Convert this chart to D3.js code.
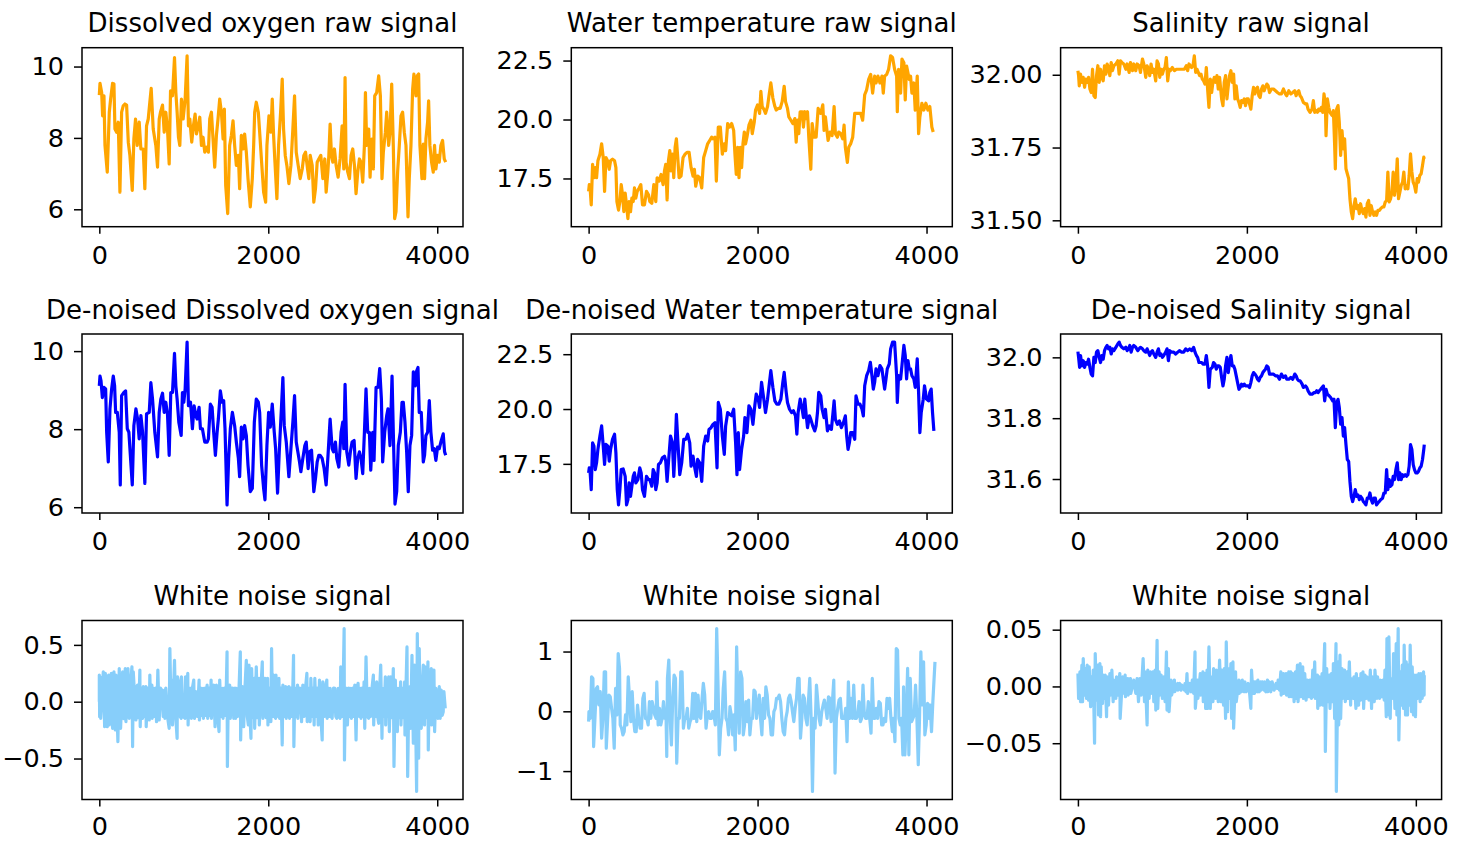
<!DOCTYPE html>
<html>
<head>
<meta charset="utf-8">
<script src="https://cdn.jsdelivr.net/npm/d3@7"></script>
<style>
  body { margin: 0; background: #fff; }
  svg { display: block; font-family: "DejaVu Sans", sans-serif; }
</style>
</head>
<body>
<svg id="chart" width="1463" height="841"></svg>
<script>
// Series, as [sample index, value]

const doRaw = [[0,9.2],[8,9.53],[28,9.27],[39,8.62],[55,9.18],[67,7.79],[94,7.04],[118,8.72],[134,9.09],[157,9.53],[173,9.51],[185,8.25],[205,8.16],[224,8.44],[244,6.48],[264,8.72],[283,8.90],[303,8.95],[323,8.92],[343,7.88],[362,7.51],[390,6.53],[409,7.97],[429,8.53],[449,7.79],[472,8.44],[492,7.69],[520,7.69],[539,6.58],[559,8.34],[579,8.53],[598,9.00],[614,9.39],[638,8.25],[669,7.79],[689,7.18],[709,8.53],[724,8.72],[748,8.92],[768,8.16],[787,8.72],[807,8.25],[827,7.27],[843,9.32],[866,9.18],[890,10.25],[906,9.27],[921,8.72],[937,8.02],[953,7.79],[972,9.09],[992,8.53],[1016,9.09],[1039,10.30],[1055,8.34],[1071,8.53],[1094,7.88],[1114,8.34],[1134,8.67],[1150,8.11],[1173,8.34],[1189,8.58],[1209,7.79],[1228,8.02],[1248,7.60],[1268,7.74],[1291,7.60],[1307,8.53],[1327,8.72],[1346,7.97],[1366,7.18],[1386,8.07],[1405,8.53],[1425,9.09],[1445,8.72],[1465,7.97],[1480,8.81],[1496,6.67],[1520,5.88],[1543,7.79],[1563,8.07],[1583,8.48],[1602,7.79],[1622,7.23],[1646,7.51],[1661,6.58],[1681,8.07],[1701,7.69],[1720,8.11],[1740,7.60],[1760,6.86],[1787,6.07],[1811,6.86],[1827,7.79],[1839,8.72],[1858,9.00],[1882,8.72],[1898,8.16],[1921,7.32],[1945,6.48],[1969,6.20],[1984,7.79],[2008,8.62],[2031,8.16],[2047,9.09],[2063,8.07],[2079,7.32],[2102,6.30],[2122,7.79],[2146,8.72],[2165,9.65],[2181,8.25],[2201,7.51],[2220,7.23],[2244,6.72],[2268,7.23],[2291,8.25],[2311,9.18],[2331,7.60],[2354,7.23],[2378,6.86],[2402,7.13],[2421,7.51],[2441,7.60],[2465,7.13],[2480,6.86],[2496,7.51],[2520,7.23],[2539,6.20],[2559,6.58],[2579,7.32],[2598,7.41],[2622,7.51],[2646,6.86],[2669,7.41],[2685,6.48],[2705,7.04],[2717,7.51],[2732,8.39],[2748,7.51],[2764,7.32],[2783,7.69],[2803,7.23],[2827,6.90],[2850,7.41],[2874,8.34],[2894,7.13],[2909,9.69],[2921,7.32],[2941,7.04],[2961,6.86],[2980,7.51],[3000,7.69],[3020,7.23],[3039,6.44],[3059,7.04],[3079,7.41],[3098,7.32],[3118,6.76],[3138,7.79],[3150,9.27],[3165,7.79],[3189,8.25],[3205,6.90],[3224,7.97],[3244,7.13],[3260,9.18],[3283,9.27],[3307,9.74],[3327,9.18],[3346,6.86],[3362,7.60],[3386,8.16],[3402,8.72],[3425,7.79],[3441,8.16],[3461,9.51],[3480,7.79],[3496,5.74],[3512,5.93],[3531,7.04],[3551,7.79],[3571,8.62],[3590,8.72],[3610,8.16],[3630,7.79],[3654,5.79],[3669,6.86],[3689,7.79],[3709,9.37],[3724,9.79],[3748,9.18],[3764,9.74],[3780,9.79],[3795,7.79],[3819,6.86],[3835,7.83],[3850,6.86],[3866,7.97],[3886,8.44],[3898,9.04],[3913,7.79],[3933,7.32],[3953,7.04],[3968,7.79],[3984,7.13],[4004,7.51],[4024,7.32],[4043,7.79],[4063,7.93],[4083,7.41],[4100,7.32]];

const tempRaw = [[0,16.95],[8,17.24],[16,17.17],[31,16.38],[47,18.10],[63,17.53],[79,17.96],[94,17.53],[110,18.25],[134,18.53],[154,18.97],[173,18.39],[189,16.95],[205,18.39],[224,18.25],[244,17.89],[260,18.25],[283,18.32],[307,18.25],[323,17.96],[335,16.52],[354,16.16],[370,16.52],[386,17.24],[402,16.81],[417,16.09],[433,16.88],[449,16.38],[465,15.80],[480,16.52],[496,16.09],[512,16.67],[528,16.52],[543,17.10],[559,16.67],[575,16.95],[598,17.10],[618,17.24],[638,16.38],[661,16.38],[685,16.95],[709,16.81],[724,16.52],[748,16.45],[772,17.24],[795,16.52],[811,17.53],[835,17.39],[858,17.67],[882,17.24],[898,17.82],[913,18.10],[929,16.59],[945,18.25],[961,18.68],[976,17.82],[992,18.53],[1008,17.53],[1024,18.82],[1039,19.18],[1055,18.39],[1071,17.53],[1094,17.60],[1118,18.39],[1142,18.53],[1165,18.61],[1189,18.61],[1213,17.96],[1236,17.60],[1252,17.89],[1268,17.17],[1291,17.60],[1315,17.53],[1339,17.10],[1362,18.39],[1386,18.68],[1409,18.97],[1433,19.11],[1457,19.25],[1472,19.18],[1496,19.25],[1512,17.39],[1535,19.68],[1559,19.68],[1583,18.53],[1606,18.97],[1622,18.68],[1646,19.83],[1669,19.68],[1693,19.83],[1717,19.54],[1732,18.53],[1748,17.67],[1764,18.82],[1780,17.53],[1795,18.82],[1811,17.96],[1827,18.97],[1843,19.47],[1858,18.97],[1874,19.25],[1898,19.76],[1921,19.97],[1937,19.40],[1961,19.90],[1976,20.40],[2000,20.62],[2024,20.26],[2039,21.19],[2055,20.55],[2079,20.40],[2094,20.26],[2118,20.55],[2134,20.98],[2157,21.55],[2181,20.91],[2205,20.55],[2220,20.40],[2244,20.47],[2268,20.47],[2291,20.76],[2315,21.41],[2331,20.76],[2354,20.47],[2370,20.11],[2394,19.97],[2417,19.83],[2441,20.04],[2457,19.04],[2472,19.97],[2488,19.40],[2504,20.33],[2528,20.33],[2543,19.68],[2559,20.33],[2575,20.04],[2591,20.33],[2606,19.25],[2630,17.89],[2646,19.83],[2669,19.25],[2693,19.25],[2717,20.47],[2748,20.26],[2772,20.62],[2787,19.54],[2803,20.11],[2819,19.61],[2835,19.11],[2858,19.47],[2882,19.32],[2906,20.55],[2921,19.40],[2945,19.25],[2961,19.47],[2984,19.40],[3008,19.18],[3024,19.76],[3039,18.82],[3063,18.18],[3079,18.82],[3102,18.97],[3126,19.25],[3150,20.26],[3173,20.26],[3197,20.26],[3220,20.26],[3244,19.97],[3268,21.05],[3291,21.26],[3315,21.70],[3339,21.91],[3362,21.12],[3386,21.84],[3402,21.55],[3425,21.84],[3449,21.55],[3472,21.84],[3488,21.12],[3504,21.84],[3528,21.91],[3551,22.13],[3575,22.70],[3598,22.63],[3622,22.13],[3646,21.84],[3654,20.33],[3669,22.13],[3693,21.12],[3709,22.56],[3732,22.41],[3748,20.83],[3764,22.27],[3780,21.98],[3795,21.70],[3811,21.84],[3827,21.12],[3850,21.55],[3866,20.40],[3890,21.84],[3906,19.40],[3921,20.11],[3945,20.69],[3968,20.40],[3992,20.69],[4016,20.40],[4039,20.55],[4063,19.68],[4079,19.47]];

const salRaw = [[0,32.014],[8,31.997],[16,31.962],[31,32.002],[47,31.974],[63,31.991],[79,31.957],[94,31.985],[110,31.974],[126,31.991],[142,31.951],[157,31.939],[173,32.019],[189,31.928],[205,31.922],[220,31.997],[236,32.031],[252,31.974],[268,32.019],[283,31.991],[299,31.979],[315,32.031],[331,32.002],[346,32.037],[362,32.025],[378,31.997],[394,32.042],[409,32.014],[425,32.031],[449,32.037],[472,32.048],[488,32.002],[504,32.048],[520,32.042],[543,32.037],[567,32.019],[583,32.037],[606,32.008],[622,32.042],[646,32.014],[661,32.037],[685,32.014],[701,32.037],[724,32.031],[740,32.008],[764,32.054],[780,32.037],[803,31.991],[819,32.031],[835,32.019],[850,31.997],[866,32.037],[882,32.008],[898,32.019],[921,31.979],[937,32.048],[953,32.037],[969,31.991],[984,32.019],[1000,32.002],[1016,32.019],[1031,32.025],[1047,32.059],[1063,31.979],[1079,32.019],[1094,32.014],[1118,32.025],[1142,32.014],[1165,32.019],[1189,32.019],[1213,32.019],[1236,32.019],[1260,32.019],[1283,32.031],[1299,32.014],[1315,32.037],[1331,32.031],[1346,32.025],[1362,32.031],[1378,32.065],[1394,32.008],[1409,32.019],[1425,32.008],[1441,31.997],[1457,32.002],[1472,31.985],[1488,31.979],[1504,31.968],[1520,32.025],[1535,31.951],[1551,31.888],[1567,31.985],[1583,31.939],[1598,31.974],[1614,31.991],[1630,31.974],[1646,31.997],[1661,31.951],[1677,31.991],[1701,31.917],[1717,31.894],[1732,31.974],[1748,31.997],[1764,31.917],[1780,31.962],[1795,31.997],[1811,32.014],[1827,31.974],[1843,32.002],[1858,31.917],[1874,31.962],[1890,31.917],[1906,31.905],[1921,31.888],[1937,31.911],[1953,31.905],[1969,31.917],[1984,31.894],[2000,31.917],[2016,31.917],[2031,31.900],[2047,31.882],[2063,31.928],[2079,31.957],[2094,31.934],[2110,31.951],[2126,31.957],[2142,31.928],[2157,31.922],[2173,31.951],[2189,31.962],[2205,31.945],[2220,31.957],[2236,31.968],[2252,31.962],[2268,31.939],[2291,31.951],[2315,31.951],[2339,31.945],[2362,31.939],[2386,31.934],[2409,31.934],[2433,31.951],[2457,31.934],[2472,31.928],[2496,31.945],[2520,31.934],[2543,31.939],[2567,31.945],[2583,31.928],[2598,31.939],[2614,31.945],[2630,31.928],[2646,31.922],[2669,31.905],[2693,31.900],[2709,31.900],[2724,31.882],[2748,31.871],[2772,31.882],[2787,31.911],[2803,31.871],[2819,31.877],[2835,31.871],[2850,31.882],[2866,31.877],[2882,31.888],[2898,31.871],[2913,31.934],[2929,31.900],[2937,31.791],[2953,31.917],[2969,31.888],[2984,31.871],[3008,31.860],[3024,31.877],[3039,31.757],[3047,31.677],[3063,31.882],[3079,31.894],[3094,31.837],[3110,31.723],[3126,31.808],[3142,31.745],[3157,31.780],[3173,31.677],[3189,31.660],[3205,31.643],[3220,31.574],[3236,31.529],[3252,31.506],[3268,31.551],[3283,31.574],[3299,31.540],[3315,31.551],[3331,31.523],[3346,31.557],[3362,31.534],[3378,31.523],[3394,31.540],[3409,31.511],[3425,31.557],[3441,31.568],[3457,31.517],[3472,31.551],[3488,31.529],[3504,31.517],[3520,31.529],[3535,31.517],[3551,31.534],[3567,31.534],[3583,31.540],[3606,31.546],[3622,31.546],[3638,31.563],[3654,31.568],[3669,31.666],[3685,31.563],[3701,31.574],[3717,31.597],[3732,31.666],[3748,31.586],[3764,31.620],[3780,31.711],[3795,31.574],[3811,31.597],[3827,31.620],[3843,31.631],[3858,31.666],[3874,31.608],[3890,31.620],[3906,31.608],[3921,31.654],[3937,31.728],[3953,31.666],[3969,31.631],[3984,31.620],[4000,31.597],[4016,31.643],[4031,31.631],[4047,31.654],[4063,31.660],[4079,31.688],[4094,31.717],[4100,31.711]];

const doClean = [[0,9.11],[8,9.36],[20,9.24],[36,8.81],[55,9.07],[75,9.03],[87,7.92],[106,7.16],[126,8.52],[146,9.03],[165,9.36],[181,9.11],[193,8.43],[213,8.43],[236,7.92],[248,6.57],[264,8.86],[291,8.94],[311,8.98],[331,8.01],[350,7.92],[390,6.57],[409,8.09],[433,8.52],[453,8.26],[472,7.75],[492,8.35],[512,7.92],[539,6.61],[559,8.39],[591,8.43],[610,9.19],[630,8.77],[657,7.92],[689,7.29],[709,8.43],[728,8.77],[748,8.92],[768,8.43],[787,8.69],[807,8.39],[827,7.33],[846,8.94],[866,8.94],[890,9.94],[906,9.11],[921,8.77],[941,8.18],[969,7.84],[984,8.94],[1000,8.69],[1016,9.03],[1039,10.23],[1055,8.60],[1079,8.69],[1102,8.01],[1122,8.60],[1142,8.35],[1157,8.26],[1181,8.56],[1197,8.01],[1220,8.01],[1248,7.67],[1276,7.67],[1291,7.75],[1315,8.64],[1335,8.56],[1354,7.92],[1374,7.33],[1394,7.92],[1409,8.26],[1433,8.98],[1453,8.69],[1472,8.73],[1488,8.01],[1512,6.06],[1531,7.25],[1551,8.01],[1575,8.43],[1602,8.09],[1622,7.67],[1646,7.25],[1661,6.78],[1681,8.05],[1701,7.75],[1720,8.09],[1740,7.84],[1760,7.08],[1787,6.40],[1811,6.48],[1835,8.18],[1858,8.77],[1882,8.69],[1898,8.43],[1921,7.08],[1945,6.48],[1961,6.19],[1984,7.58],[2004,8.43],[2024,8.05],[2047,8.64],[2071,7.92],[2087,7.50],[2110,6.36],[2130,7.42],[2157,8.60],[2173,9.32],[2189,8.09],[2213,7.67],[2244,6.78],[2268,7.50],[2291,8.18],[2311,8.86],[2331,7.67],[2350,7.42],[2370,7.16],[2386,6.91],[2409,7.25],[2433,7.58],[2449,7.67],[2472,6.99],[2488,7.42],[2512,7.46],[2539,6.40],[2559,6.74],[2579,7.16],[2598,7.33],[2614,7.33],[2638,7.25],[2661,6.99],[2685,6.57],[2705,7.25],[2732,8.26],[2756,7.50],[2772,7.42],[2795,7.67],[2811,7.25],[2835,7.03],[2862,7.92],[2882,8.18],[2894,7.50],[2909,9.15],[2929,7.42],[2953,7.08],[2972,7.42],[2992,7.67],[3016,7.71],[3039,6.74],[3059,7.25],[3079,7.42],[3098,7.25],[3118,6.86],[3138,7.92],[3157,9.03],[3177,7.92],[3197,7.92],[3213,6.95],[3236,7.92],[3252,7.20],[3276,9.07],[3299,9.07],[3319,9.55],[3339,8.77],[3354,7.16],[3378,7.92],[3402,8.35],[3417,8.52],[3441,7.58],[3465,9.36],[3480,7.92],[3500,6.08],[3520,6.40],[3539,7.58],[3563,7.92],[3583,8.69],[3598,8.69],[3618,8.18],[3638,7.42],[3657,6.40],[3677,7.58],[3697,7.84],[3717,9.47],[3740,9.11],[3756,9.49],[3772,9.58],[3787,8.43],[3811,8.43],[3835,7.16],[3850,7.33],[3866,7.84],[3886,7.92],[3906,8.73],[3925,7.92],[3945,7.46],[3965,7.50],[3984,7.20],[4004,7.54],[4024,7.50],[4043,7.67],[4071,7.88],[4087,7.42],[4100,7.33]];

const tempClean = [[0,17.09],[8,17.32],[16,17.24],[31,16.32],[47,18.46],[63,18.31],[79,17.24],[94,17.55],[110,18.16],[134,18.77],[154,19.23],[173,18.31],[189,17.47],[205,18.39],[228,18.31],[244,17.62],[260,18.16],[283,18.62],[307,18.85],[323,18.00],[339,16.32],[354,15.63],[370,16.32],[386,17.24],[409,17.27],[433,16.93],[449,15.63],[465,15.86],[480,16.63],[496,16.02],[512,16.48],[528,16.93],[543,17.09],[559,16.63],[583,16.78],[606,17.32],[622,17.09],[638,16.32],[661,16.02],[685,16.93],[709,16.78],[724,16.78],[748,16.48],[764,17.24],[780,17.09],[795,16.32],[811,16.63],[827,17.47],[850,17.55],[874,17.78],[898,17.85],[913,17.62],[929,16.70],[945,17.55],[969,18.77],[992,18.46],[1008,16.93],[1024,18.16],[1039,19.76],[1055,18.62],[1079,17.01],[1102,17.55],[1126,18.62],[1150,18.62],[1173,18.85],[1197,18.46],[1213,17.39],[1236,17.85],[1260,17.24],[1276,16.93],[1291,17.70],[1315,17.55],[1339,16.70],[1362,18.31],[1386,18.77],[1409,18.54],[1425,19.07],[1449,19.15],[1472,19.30],[1496,19.38],[1520,17.32],[1535,20.30],[1559,19.99],[1583,18.77],[1606,17.93],[1622,19.23],[1646,19.84],[1669,19.76],[1693,19.69],[1717,19.99],[1740,18.46],[1756,17.01],[1772,18.92],[1787,17.24],[1811,18.16],[1835,18.77],[1850,19.61],[1874,18.92],[1898,20.15],[1921,19.99],[1945,19.30],[1969,20.22],[1984,20.68],[2008,20.45],[2024,20.07],[2047,21.22],[2071,20.53],[2094,19.84],[2118,20.45],[2134,20.99],[2157,21.75],[2181,20.99],[2205,20.37],[2228,20.22],[2252,20.22],[2276,20.45],[2299,21.22],[2315,21.67],[2339,20.76],[2354,20.30],[2378,19.99],[2402,19.84],[2425,19.92],[2449,19.69],[2465,18.85],[2480,19.84],[2504,20.45],[2528,19.99],[2543,19.61],[2559,20.45],[2575,19.76],[2591,19.15],[2614,19.69],[2630,19.53],[2653,19.23],[2677,19.00],[2693,19.23],[2709,19.84],[2724,20.76],[2748,20.60],[2764,19.99],[2787,19.61],[2803,19.99],[2827,19.00],[2850,19.23],[2874,19.07],[2906,20.37],[2921,19.53],[2945,19.30],[2969,19.46],[2992,19.15],[3016,19.38],[3039,19.69],[3055,18.77],[3071,18.16],[3087,18.46],[3102,18.92],[3126,18.92],[3150,18.62],[3165,20.60],[3189,20.22],[3213,20.22],[3236,19.99],[3252,19.69],[3268,21.06],[3291,21.52],[3315,21.75],[3335,22.13],[3354,21.52],[3370,20.91],[3386,21.22],[3402,21.83],[3425,21.52],[3449,21.98],[3472,21.83],[3488,21.37],[3504,20.91],[3520,21.37],[3535,21.83],[3559,22.06],[3575,22.74],[3598,23.05],[3622,23.05],[3646,21.52],[3654,20.30],[3669,21.52],[3693,21.37],[3709,21.98],[3732,22.90],[3748,22.44],[3764,21.37],[3780,22.21],[3795,21.83],[3811,21.83],[3827,21.52],[3850,21.37],[3866,20.99],[3890,22.29],[3906,20.76],[3921,18.92],[3937,19.84],[3961,20.45],[3976,21.06],[4000,20.45],[4024,20.37],[4039,20.76],[4055,20.91],[4071,19.84],[4087,19.00]];

const salClean = [[0,32.019],[8,32.000],[20,31.967],[31,32.006],[47,31.972],[63,31.989],[79,31.967],[94,31.983],[110,31.978],[126,31.994],[142,31.967],[157,31.945],[173,31.939],[189,32.000],[205,31.983],[220,32.017],[236,32.022],[252,32.000],[268,31.983],[283,32.006],[299,31.994],[315,32.022],[331,32.033],[346,32.039],[362,32.028],[378,32.033],[394,32.011],[409,32.028],[425,32.022],[449,32.033],[472,32.044],[488,32.050],[504,32.039],[520,32.033],[543,32.028],[567,32.033],[583,32.022],[598,32.028],[614,32.039],[630,32.017],[646,32.033],[661,32.039],[685,32.033],[709,32.022],[724,32.028],[740,32.033],[764,32.028],[780,32.022],[803,32.017],[819,32.028],[835,32.017],[850,32.006],[866,32.017],[882,32.022],[898,32.011],[921,32.000],[937,32.017],[953,32.028],[969,32.006],[984,32.011],[1000,32.000],[1016,32.006],[1039,32.017],[1055,32.028],[1071,31.989],[1087,32.022],[1110,32.017],[1134,32.017],[1157,32.011],[1181,32.017],[1205,32.022],[1228,32.017],[1252,32.017],[1276,32.028],[1299,32.022],[1323,32.028],[1346,32.022],[1370,32.033],[1386,32.017],[1402,32.006],[1417,32.000],[1433,31.983],[1449,31.983],[1465,31.983],[1480,31.978],[1504,31.978],[1520,32.006],[1535,31.972],[1551,31.901],[1567,31.961],[1591,31.967],[1606,31.983],[1622,31.978],[1638,31.961],[1654,31.972],[1669,31.972],[1685,31.967],[1701,31.934],[1717,31.906],[1732,31.928],[1748,31.972],[1764,32.000],[1780,31.950],[1795,31.983],[1811,32.006],[1827,31.972],[1843,31.972],[1858,31.961],[1874,31.939],[1890,31.917],[1906,31.895],[1921,31.901],[1937,31.912],[1953,31.906],[1969,31.912],[1984,31.906],[2000,31.906],[2016,31.906],[2031,31.901],[2047,31.917],[2063,31.939],[2079,31.950],[2094,31.945],[2110,31.939],[2126,31.928],[2142,31.923],[2157,31.934],[2173,31.939],[2189,31.950],[2205,31.956],[2220,31.961],[2236,31.972],[2252,31.967],[2268,31.945],[2291,31.945],[2315,31.945],[2339,31.939],[2362,31.939],[2386,31.928],[2409,31.945],[2433,31.934],[2457,31.939],[2472,31.928],[2496,31.928],[2520,31.934],[2543,31.928],[2567,31.945],[2583,31.939],[2598,31.928],[2614,31.923],[2630,31.923],[2654,31.912],[2669,31.901],[2693,31.906],[2709,31.901],[2724,31.890],[2748,31.879],[2772,31.879],[2795,31.884],[2811,31.884],[2827,31.890],[2843,31.884],[2858,31.890],[2874,31.895],[2890,31.901],[2906,31.906],[2921,31.857],[2937,31.895],[2953,31.879],[2976,31.873],[2992,31.868],[3016,31.857],[3031,31.862],[3047,31.769],[3063,31.851],[3079,31.862],[3094,31.835],[3110,31.780],[3126,31.802],[3142,31.741],[3157,31.769],[3173,31.713],[3189,31.664],[3205,31.658],[3220,31.592],[3236,31.543],[3252,31.526],[3268,31.543],[3283,31.565],[3299,31.543],[3315,31.548],[3331,31.532],[3346,31.543],[3362,31.537],[3378,31.526],[3394,31.521],[3409,31.515],[3425,31.537],[3441,31.537],[3457,31.554],[3472,31.532],[3488,31.521],[3504,31.537],[3520,31.537],[3535,31.515],[3551,31.521],[3567,31.526],[3583,31.532],[3606,31.537],[3622,31.554],[3638,31.554],[3654,31.631],[3669,31.565],[3685,31.598],[3701,31.576],[3717,31.581],[3732,31.609],[3748,31.598],[3764,31.631],[3780,31.653],[3795,31.598],[3811,31.620],[3827,31.598],[3843,31.614],[3858,31.609],[3874,31.614],[3890,31.609],[3906,31.614],[3921,31.642],[3937,31.713],[3953,31.697],[3969,31.647],[3984,31.631],[4000,31.620],[4016,31.620],[4031,31.625],[4047,31.636],[4063,31.642],[4079,31.664],[4094,31.697],[4100,31.713]];

const doNoise = [[0,0],[0,0.234],[4,-0.132],[8,0.219],[16,-0.146],[47,0.263],[63,-0.219],[71,0.249],[94,-0.219],[110,0.234],[118,-0.205],[142,0.249],[157,-0.234],[173,0.263],[189,-0.249],[197,0.234],[220,-0.351],[236,0.292],[252,-0.234],[276,0.263],[291,-0.15],[307,0.292],[315,-0.175],[339,0.292],[354,-0.146],[370,0.15],[386,0.307],[394,-0.395],[402,0.263],[433,-0.161],[441,0.13],[453,0.146],[465,-0.14],[480,0.278],[484,-0.219],[496,0.12],[512,-0.146],[520,0.132],[535,-0.13],[551,0.132],[555,-0.219],[571,0.12],[591,-0.161],[598,0.234],[610,-0.13],[622,0.146],[626,-0.146],[638,0.12],[654,-0.13],[665,0.12],[677,-0.175],[693,0.278],[709,-0.161],[724,0.12],[740,0.102],[756,-0.13],[772,0.102],[776,-0.146],[787,0.12],[807,-0.13],[827,-0.234],[835,0.468],[850,-0.12],[858,0.19],[866,-0.205],[890,0.365],[905,-0.14],[921,-0.322],[925,0.219],[945,0.146],[957,-0.13],[969,-0.146],[972,0.219],[992,-0.13],[1016,-0.146],[1020,0.219],[1031,-0.12],[1047,0.249],[1051,-0.205],[1063,0.12],[1087,0.117],[1090,-0.146],[1102,0.12],[1118,0.19],[1126,-0.146],[1142,0.088],[1161,-0.13],[1181,0.19],[1185,-0.161],[1201,0.12],[1213,-0.12],[1228,0.117],[1232,-0.146],[1252,0.12],[1264,-0.12],[1276,0.146],[1283,-0.146],[1299,0.12],[1311,-0.12],[1323,0.19],[1327,-0.146],[1339,0.12],[1354,0.146],[1370,-0.219],[1386,0.146],[1402,-0.13],[1417,-0.263],[1425,0.19],[1441,-0.13],[1457,0.117],[1465,-0.146],[1480,0.12],[1496,-0.12],[1512,0.439],[1516,-0.57],[1528,0.12],[1543,0.146],[1551,-0.146],[1567,0.12],[1583,0.117],[1591,-0.146],[1606,0.12],[1614,-0.146],[1622,0.117],[1638,-0.13],[1654,0.12],[1669,0.439],[1673,-0.336],[1685,0.12],[1693,0.132],[1709,-0.219],[1724,0.12],[1740,0.365],[1752,-0.13],[1764,-0.205],[1772,0.322],[1784,-0.13],[1795,-0.322],[1803,0.292],[1819,-0.14],[1835,0.205],[1839,-0.234],[1858,0.307],[1874,-0.14],[1890,0.205],[1894,-0.205],[1913,0.12],[1929,0.351],[1937,-0.146],[1949,0.12],[1961,0.205],[1976,-0.14],[1992,0.205],[1996,-0.205],[2008,0.12],[2031,-0.175],[2039,0.468],[2051,-0.13],[2063,0.234],[2075,-0.13],[2087,-0.146],[2091,0.234],[2106,-0.13],[2126,0.205],[2134,-0.146],[2150,0.12],[2165,-0.38],[2173,0.146],[2189,-0.13],[2205,0.132],[2213,-0.146],[2228,0.12],[2244,0.132],[2252,-0.146],[2268,0.12],[2283,-0.13],[2299,0.409],[2303,-0.395],[2315,0.12],[2331,-0.13],[2346,0.146],[2350,-0.146],[2362,0.12],[2378,0.117],[2394,-0.175],[2409,0.146],[2425,-0.13],[2441,0.12],[2457,0.249],[2461,-0.175],[2472,0.12],[2484,-0.13],[2496,-0.175],[2504,0.205],[2520,-0.13],[2531,0.12],[2543,-0.205],[2551,0.205],[2567,-0.13],[2579,0.12],[2591,-0.205],[2606,0.19],[2622,-0.13],[2638,-0.336],[2646,0.175],[2665,-0.13],[2677,0.12],[2693,0.19],[2697,-0.146],[2709,0.12],[2720,-0.13],[2732,0.117],[2744,-0.13],[2756,-0.146],[2772,0.12],[2787,0.117],[2799,-0.13],[2811,-0.146],[2827,0.117],[2839,-0.13],[2850,-0.146],[2858,0.307],[2874,-0.13],[2886,0.12],[2898,0.643],[2902,-0.512],[2913,0.12],[2929,0.117],[2937,-0.205],[2953,0.12],[2965,-0.13],[2976,0.117],[2984,-0.146],[3000,0.12],[3012,-0.13],[3024,0.146],[3039,-0.336],[3051,0.12],[3063,0.161],[3079,-0.13],[3094,0.117],[3098,-0.146],[3110,0.12],[3122,-0.13],[3134,0.175],[3142,-0.234],[3157,0.395],[3173,-0.13],[3189,-0.146],[3197,0.117],[3213,-0.13],[3228,0.12],[3244,0.234],[3248,-0.205],[3260,0.12],[3272,-0.13],[3283,0.175],[3295,-0.13],[3307,-0.19],[3319,0.12],[3331,0.322],[3346,-0.322],[3354,0.117],[3370,-0.13],[3386,0.219],[3390,-0.205],[3402,0.12],[3413,-0.13],[3425,0.219],[3433,-0.263],[3449,0.219],[3465,-0.14],[3480,0.292],[3488,-0.57],[3504,0.19],[3516,-0.14],[3528,-0.263],[3535,0.117],[3551,-0.14],[3567,0.175],[3571,-0.205],[3583,0.12],[3598,-0.14],[3614,0.175],[3618,-0.292],[3630,0.12],[3642,0.482],[3650,-0.658],[3665,0.12],[3677,0.132],[3685,-0.234],[3701,0.409],[3717,-0.365],[3732,0.322],[3744,-0.14],[3756,-0.789],[3764,0.599],[3780,-0.497],[3787,0.468],[3799,-0.14],[3811,-0.234],[3823,0.12],[3835,0.322],[3850,-0.205],[3858,0.307],[3874,-0.14],[3890,0.351],[3894,-0.424],[3906,0.12],[3917,-0.14],[3929,0.292],[3933,-0.205],[3945,0.12],[3961,0.278],[3969,-0.263],[3984,0.117],[3996,-0.13],[4008,-0.146],[4024,0.132],[4035,-0.146],[4047,0.102],[4059,-0.12],[4071,-0.088],[4079,0.088],[4095,-0.058]];

const tempNoise = [[0,-0.172],[4,-0.006],[20,-0.117],[35,0.578],[51,0.550],[59,-0.589],[75,-0.117],[91,0.383],[106,0.411],[122,0.106],[138,0.328],[154,-0.450],[169,-0.117],[185,0.661],[201,0.661],[209,-0.617],[224,-0.172],[240,0.272],[256,0.244],[272,0.050],[287,-0.117],[303,-0.617],[319,0.383],[335,-0.061],[350,0.967],[366,0.717],[374,-0.228],[390,-0.283],[406,-0.394],[421,-0.339],[437,-0.061],[453,-0.228],[469,0.578],[484,0.217],[500,-0.172],[516,0.328],[531,-0.117],[547,-0.339],[563,-0.339],[579,0.106],[594,-0.117],[610,-0.283],[626,-0.283],[642,0.217],[657,0.300],[673,-0.117],[689,-0.117],[705,-0.228],[720,0.161],[736,-0.117],[752,0.161],[768,0.050],[783,-0.061],[799,-0.117],[807,0.494],[823,-0.228],[839,0.050],[854,-0.228],[870,-0.117],[886,0.161],[902,-0.117],[917,-0.117],[925,-0.756],[933,0.550],[949,0.856],[965,-0.117],[980,-0.561],[996,0.217],[1012,0.606],[1028,0.550],[1043,-0.867],[1059,-0.117],[1075,-0.117],[1091,0.661],[1106,0.661],[1122,-0.283],[1138,-0.117],[1154,-0.117],[1169,0.050],[1185,-0.283],[1201,-0.172],[1217,-0.117],[1232,0.300],[1248,-0.117],[1264,0.300],[1280,-0.172],[1295,0.272],[1311,-0.061],[1327,-0.117],[1343,0.217],[1358,0.467],[1374,0.272],[1390,-0.283],[1406,-0.061],[1421,-0.006],[1437,-0.117],[1453,-0.117],[1469,-0.006],[1484,-0.061],[1500,-0.228],[1516,1.383],[1532,0.439],[1547,-0.728],[1563,-0.283],[1579,-0.117],[1594,0.383],[1610,0.661],[1626,-0.117],[1642,-0.172],[1657,-0.394],[1673,0.078],[1689,-0.061],[1705,-0.394],[1720,-0.061],[1736,-0.644],[1752,1.078],[1768,0.161],[1783,-0.367],[1799,0.661],[1815,0.550],[1831,-0.394],[1846,-0.228],[1862,0.161],[1878,-0.172],[1894,0.189],[1909,-0.394],[1925,-0.117],[1941,-0.117],[1957,0.356],[1972,0.328],[1988,-0.117],[2004,0.106],[2020,0.272],[2035,-0.117],[2051,-0.394],[2067,0.217],[2083,-0.117],[2098,0.411],[2114,0.272],[2130,-0.061],[2146,-0.117],[2161,-0.394],[2177,-0.394],[2193,-0.006],[2209,0.050],[2224,0.217],[2240,0.217],[2256,0.272],[2272,0.161],[2287,-0.117],[2303,-0.339],[2319,-0.394],[2335,-0.117],[2350,-0.006],[2366,0.217],[2382,0.272],[2398,0.161],[2413,-0.006],[2429,-0.172],[2445,0.050],[2461,0.217],[2476,0.550],[2492,0.550],[2508,-0.450],[2524,-0.117],[2539,0.272],[2555,0.217],[2571,-0.117],[2587,-0.228],[2602,0.161],[2618,0.550],[2634,-0.117],[2650,-1.339],[2665,-0.117],[2681,-0.283],[2697,0.439],[2713,0.161],[2728,-0.117],[2744,-0.228],[2760,-0.006],[2776,0.106],[2791,0.189],[2807,0.050],[2823,-0.117],[2839,0.244],[2854,0.217],[2870,-0.172],[2886,0.161],[2902,0.522],[2917,-1.033],[2933,-0.117],[2949,0.050],[2965,0.189],[2980,0.217],[2996,-0.117],[3012,-0.117],[3028,-0.117],[3043,0.050],[3059,-0.506],[3075,0.494],[3091,-0.117],[3106,0.217],[3122,-0.117],[3138,0.439],[3154,-0.117],[3169,-0.117],[3185,-0.061],[3201,0.161],[3217,-0.172],[3232,-0.117],[3248,0.439],[3264,-0.061],[3280,-0.117],[3295,-0.117],[3311,0.161],[3327,-0.117],[3343,-0.367],[3358,0.550],[3374,-0.117],[3390,-0.117],[3406,0.050],[3421,-0.117],[3437,0.161],[3453,0.133],[3469,-0.228],[3484,-0.228],[3500,-0.117],[3516,-0.172],[3532,0.217],[3547,0.050],[3563,0.217],[3579,-0.117],[3595,-0.339],[3610,-0.117],[3626,-0.506],[3642,1.050],[3657,1.022],[3673,-0.117],[3689,-0.228],[3705,-0.117],[3720,-0.728],[3728,0.411],[3744,-0.728],[3760,-0.117],[3776,0.717],[3791,-0.728],[3807,0.550],[3823,-0.172],[3839,-0.117],[3854,-0.061],[3870,0.439],[3886,-0.117],[3902,-0.894],[3917,-0.117],[3933,0.994],[3949,0.106],[3965,0.828],[3980,-0.394],[3996,-0.228],[4012,0.133],[4028,-0.117],[4043,0.106],[4059,-0.339],[4075,0.161],[4100,0.828]];

const salNoise = [[0,0.0114],[8,-0.0105],[24,0.0129],[31,-0.0135],[47,0.0187],[55,-0.0135],[63,0.0246],[79,-0.0076],[87,0.0158],[102,-0.0105],[110,0.0187],[126,-0.012],[134,0.0173],[150,-0.0178],[157,0.0085],[173,-0.0164],[181,0.0143],[197,-0.05],[205,0.0289],[220,-0.012],[236,0.0187],[244,-0.0251],[260,0.0202],[268,-0.0266],[276,0.0173],[291,-0.0149],[299,0.0099],[315,-0.0105],[323,0.0099],[339,-0.0266],[346,0.0085],[362,-0.0164],[378,0.0114],[386,-0.0076],[402,0.0143],[417,-0.0135],[425,0.0056],[449,-0.0105],[457,0.0085],[472,-0.0076],[496,0.0114],[500,-0.0281],[528,0.0085],[532,-0.0061],[559,0.0099],[563,-0.0091],[591,0.007],[595,-0.0076],[622,0.007],[626,-0.0061],[661,0.0056],[685,-0.0061],[701,0.007],[717,-0.0135],[732,0.007],[748,-0.0076],[772,0.0246],[788,-0.0135],[795,0.0129],[819,-0.0339],[827,0.0143],[843,-0.0105],[858,0.0129],[866,-0.0061],[890,0.0129],[898,-0.0135],[914,0.0143],[922,-0.0208],[937,0.0406],[945,-0.0193],[961,0.0129],[969,-0.0076],[985,0.0099],[1000,-0.0105],[1016,0.0085],[1032,-0.0135],[1048,0.0304],[1055,-0.0208],[1071,0.0158],[1079,-0.0222],[1102,0.0056],[1110,-0.0076],[1142,0.0056],[1146,-0.0047],[1181,0.0026],[1185,-0.0032],[1205,0.0026],[1221,-0.0032],[1228,0.0012],[1260,-0.0032],[1268,0.0026],[1280,-0.0047],[1291,0.0114],[1299,-0.0061],[1323,0.0026],[1339,-0.0047],[1354,0.0056],[1370,-0.0061],[1386,0.0304],[1390,-0.0193],[1417,0.0056],[1421,-0.0105],[1449,0.0114],[1453,-0.0076],[1480,0.0129],[1484,-0.0135],[1504,0.0114],[1512,-0.0193],[1528,0.0143],[1535,-0.0193],[1551,0.0348],[1567,-0.0193],[1575,0.0085],[1598,-0.0135],[1606,0.0158],[1630,-0.0105],[1638,0.0143],[1661,-0.0135],[1677,0.0231],[1693,-0.0135],[1701,0.0143],[1724,-0.0164],[1732,0.0158],[1748,-0.0281],[1756,0.0392],[1772,-0.0222],[1780,0.0158],[1795,-0.0105],[1811,0.0202],[1819,-0.0281],[1835,0.0216],[1843,-0.0368],[1866,0.0129],[1874,-0.0135],[1906,0.0056],[1910,-0.0061],[1921,0.0041],[1937,-0.0047],[1945,0.0056],[1969,-0.0047],[1976,0.0041],[1992,-0.0047],[2016,0.0026],[2031,-0.0047],[2047,-0.0193],[2055,0.0143],[2071,-0.0061],[2087,0.0041],[2091,-0.0061],[2106,0.0041],[2126,-0.0047],[2130,0.0056],[2146,-0.0047],[2165,0.0041],[2169,-0.0032],[2185,0.0041],[2205,-0.0032],[2209,0.0041],[2224,-0.0047],[2244,0.0056],[2248,-0.0047],[2264,0.0041],[2283,-0.0047],[2299,0.0041],[2323,-0.0032],[2346,0.0026],[2362,-0.0018],[2370,0.0056],[2386,-0.0032],[2402,0.0129],[2406,-0.0076],[2433,0.0114],[2437,-0.0061],[2465,0.0114],[2469,-0.0076],[2496,0.0129],[2500,-0.0091],[2520,0.0129],[2528,-0.0091],[2543,0.0114],[2559,-0.0135],[2575,0.0129],[2583,-0.0105],[2598,0.0187],[2606,-0.0135],[2630,0.0202],[2638,-0.0091],[2661,0.0173],[2669,-0.0105],[2685,0.0114],[2701,-0.012],[2717,0.0056],[2732,-0.0091],[2748,0.0056],[2764,-0.0105],[2780,0.0143],[2787,-0.0091],[2803,0.0216],[2811,-0.0105],[2835,0.0099],[2839,-0.0193],[2858,0.0085],[2866,-0.0164],[2890,0.0114],[2898,-0.0164],[2921,0.0377],[2929,-0.0573],[2945,0.0158],[2953,-0.0135],[2976,0.0099],[2984,-0.0193],[3000,0.0114],[3016,-0.0135],[3024,0.0202],[3039,-0.0281],[3055,0.0377],[3059,-0.0924],[3079,0.0216],[3087,-0.0339],[3102,0.0275],[3110,-0.0281],[3126,0.0158],[3134,-0.0105],[3157,0.0143],[3165,-0.0135],[3189,0.0129],[3197,-0.0105],[3213,0.0216],[3228,-0.0164],[3236,0.007],[3260,-0.0105],[3268,0.0085],[3291,-0.0193],[3295,0.0114],[3323,-0.0164],[3327,0.007],[3346,-0.012],[3350,0.0114],[3362,-0.0105],[3374,0.0129],[3382,-0.0193],[3398,0.0099],[3413,-0.0105],[3421,0.0085],[3445,-0.012],[3461,0.0143],[3476,-0.0193],[3484,0.0085],[3508,-0.0135],[3516,0.0143],[3539,-0.0105],[3547,0.0085],[3571,-0.0105],[3579,0.0056],[3602,-0.0091],[3610,0.0056],[3626,-0.012],[3634,0.0143],[3650,-0.0266],[3658,0.0421],[3673,-0.0251],[3681,0.0436],[3697,-0.0281],[3705,0.007],[3728,-0.0105],[3736,0.0289],[3752,-0.0193],[3768,0.0377],[3776,-0.0251],[3791,0.0509],[3799,-0.0471],[3815,0.0129],[3823,-0.0164],[3839,0.0187],[3854,-0.0193],[3862,0.0363],[3878,-0.0251],[3886,0.0216],[3902,-0.0251],[3909,0.0187],[3925,-0.0164],[3933,0.0363],[3949,-0.0222],[3957,0.0173],[3972,-0.0251],[3980,0.0099],[3996,-0.0266],[4004,0.0099],[4020,-0.0105],[4035,0.0114],[4051,-0.0135],[4059,0.0114],[4075,-0.0105],[4091,0.0129],[4098,-0.0076],[4100,0.0099]];

// Titles and ticks, row by row
const titles = [
  "Dissolved oxygen raw signal", "Water temperature raw signal", "Salinity raw signal",
  "De-noised Dissolved oxygen signal", "De-noised Water temperature signal", "De-noised Salinity signal",
  "White noise signal", "White noise signal", "White noise signal"
];
const series = [doRaw, tempRaw, salRaw, doClean, tempClean, salClean, doNoise, tempNoise, salNoise];
const colors = ["orange", "orange", "orange", "blue", "blue", "blue", "lightskyblue", "lightskyblue", "lightskyblue"];
const xTicks = [0, 2000, 4000];
const yTicks = [
  [6, 8, 10], [17.5, 20, 22.5], [31.5, 31.75, 32],
  [6, 8, 10], [17.5, 20, 22.5], [31.6, 31.8, 32],
  [-0.5, 0, 0.5], [-1, 0, 1], [-0.05, 0, 0.05]
];
const yFormats = [".0f", ".1f", ".2f", ".0f", ".1f", ".1f", ".1f", ".0f", ".2f"];

// Layout (matplotlib 3x3 subplots)
const colX = [82, 571.3, 1060.6];
const rowY = [47.7, 334, 620.5];
const pw = 381, ph = 179;
const tickFont = 25.5, titleFont = 26;

// matplotlib pads data limits by 5%
const padded = ([lo, hi]) => {
  const m = (hi - lo) * 0.05;
  return [lo - m, hi + m];
};

const svg = d3.select("#chart");
svg.append("rect").attr("width", 1463).attr("height", 841).attr("fill", "#fff");

const x = d3.scaleLinear().domain(padded([0, 4100])).range([0, pw]);

const styleAxis = a => {
  a.select(".domain").remove();
  a.attr("font-family", null).attr("font-size", tickFont);
  a.selectAll(".tick line").attr("stroke", "#000").attr("stroke-width", 1.5);
  a.selectAll(".tick text").attr("fill", "#000");
};

series.forEach((data, i) => {
  const row = Math.floor(i / 3);
  const g = svg.append("g")
    .attr("transform", `translate(${colX[i % 3]},${rowY[row]})`);

  const y = d3.scaleLinear()
    .domain(padded(d3.extent(data, d => d[1])))
    .range([ph, 0]);

  const clipId = "clip-" + i;
  g.append("clipPath").attr("id", clipId)
    .append("rect").attr("width", pw).attr("height", ph);

  g.append("path")
    .datum(data)
    .attr("clip-path", `url(#${clipId})`)
    .attr("fill", "none")
    .attr("stroke", colors[i])
    .attr("stroke-width", 3.2)
    .attr("stroke-linejoin", "round")
    .attr("d", d3.line().x(d => x(d[0])).y(d => y(d[1])));

  // bottom row sits close to the page edge, pull its labels up a touch
  g.append("g")
    .attr("transform", `translate(0,${ph})`)
    .call(d3.axisBottom(x).tickValues(xTicks).tickFormat(d3.format("d"))
      .tickSize(7).tickPadding(row === 2 ? 10.2 : 12.2).tickSizeOuter(0))
    .call(styleAxis);

  g.append("g")
    .call(d3.axisLeft(y).tickValues(yTicks[i]).tickFormat(d3.format(yFormats[i]))
      .tickSize(8).tickPadding(10).tickSizeOuter(0))
    .call(styleAxis);

  // frame
  g.append("rect")
    .attr("width", pw).attr("height", ph)
    .attr("fill", "none").attr("stroke", "#000").attr("stroke-width", 1.5);

  g.append("text")
    .attr("x", pw / 2).attr("y", -15.4)
    .attr("text-anchor", "middle")
    .attr("font-size", titleFont)
    .text(titles[i]);
});
</script>
</body>
</html>
